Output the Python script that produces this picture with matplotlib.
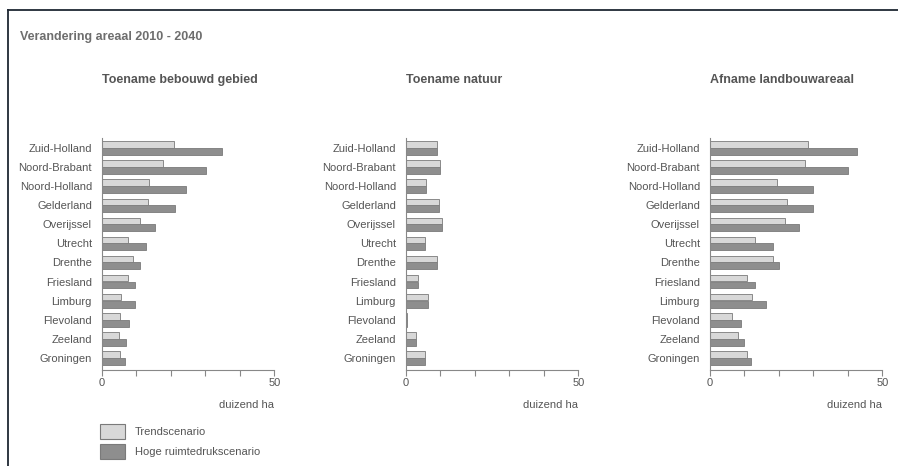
import numpy as np
import matplotlib
matplotlib.use('Agg')
import matplotlib.pyplot as plt
from matplotlib.patches import Patch
from matplotlib.lines import Line2D

plt.rcParams['font.family'] = ['Liberation Sans', 'DejaVu Sans']

# provinces, top to bottom as in the chart
provinces = ['Zuid-Holland', 'Noord-Brabant', 'Noord-Holland', 'Gelderland', 'Overijssel',
             'Utrecht', 'Drenthe', 'Friesland', 'Limburg', 'Flevoland', 'Zeeland', 'Groningen']

# duizend ha
bebouwd_trend = [20.8, 17.7, 13.7, 13.4, 11.1, 7.7, 9.2, 7.5, 5.6, 5.3, 5.1, 5.3]
bebouwd_hoog = [34.9, 30.3, 24.3, 21.1, 15.4, 12.9, 11.2, 9.7, 9.7, 8.0, 6.9, 6.8]

natuur_trend = [9.0, 9.8, 5.8, 9.7, 10.6, 5.5, 9.0, 3.7, 6.5, 0.5, 3.1, 5.5]
natuur_hoog = [9.0, 9.9, 5.8, 9.7, 10.6, 5.5, 9.0, 3.7, 6.5, 0.5, 3.1, 5.5]

landbouw_trend = [28.6, 27.5, 19.6, 22.4, 21.8, 13.1, 18.2, 10.7, 12.2, 6.5, 8.1, 10.7]
landbouw_hoog = [42.7, 40.1, 30.0, 30.0, 25.9, 18.3, 20.0, 13.1, 16.3, 9.0, 9.9, 12.1]

panel_titles = ['Toename bebouwd gebied', 'Toename natuur', 'Afname landbouwareaal']
series = [(bebouwd_trend, bebouwd_hoog), (natuur_trend, natuur_hoog), (landbouw_trend, landbouw_hoog)]

light = '#d8d8d8'
dark = '#8e8e8e'
edge = '#7a7a7a'
txt = '#555555'

W, H = 898, 466
fig = plt.figure(figsize=(W / 100, H / 100), dpi=100)

# frame lines (top and left only)
fig.add_artist(Line2D([8 / W, 1], [1 - 10 / H, 1 - 10 / H], color='#1f2733', lw=1.3))
fig.add_artist(Line2D([8 / W, 8 / W], [0, 1 - 10 / H], color='#1f2733', lw=1.3))

fig.text(20 / W, 1 - 37 / H, 'Verandering areaal 2010 - 2040', fontsize=9, fontweight='bold',
         color='#6e6e6e', va='center', ha='left')

lefts = [101.7, 405.7, 709.7]
y = np.arange(len(provinces))[::-1]

for left, title, (trend, hoog) in zip(lefts, panel_titles, series):
    ax = fig.add_axes([left / W, 1 - 370 / H, 172.6 / W, 232 / H])
    ax.barh(y - 0.18, hoog, height=0.36, color=dark, edgecolor=edge, linewidth=0.6)
    ax.barh(y + 0.18, trend, height=0.34, color=light, edgecolor=edge, linewidth=0.6)
    ax.set_xlim(0, 50)
    ax.set_ylim(-0.63, 11.52)
    ax.set_yticks(y)
    ax.set_yticklabels(provinces, fontsize=8, color=txt)
    ax.tick_params(axis='y', length=0, pad=7)
    ax.set_xticks([0, 10, 20, 30, 40, 50])
    ax.set_xticklabels(['0', '', '', '', '', '50'], fontsize=8, color=txt)
    ax.tick_params(axis='x', length=4, color='#888888', pad=2)
    for s in ['top', 'right']:
        ax.spines[s].set_visible(False)
    for s in ['left', 'bottom']:
        ax.spines[s].set_color('#888888')
        ax.spines[s].set_linewidth(0.8)
    ax.text(1.0, -0.15, 'duizend ha', transform=ax.transAxes, ha='right', va='center',
            fontsize=8, color=txt)
    fig.text(left / W, 1 - 80 / H, title, fontsize=9, fontweight='bold', color='#555555',
             ha='left', va='center')

handles = [Patch(facecolor=light, edgecolor=edge, linewidth=0.8),
           Patch(facecolor=dark, edgecolor=edge, linewidth=0.8)]
fig.legend(handles, ['Trendscenario', 'Hoge ruimtedrukscenario'], loc='upper left',
           bbox_to_anchor=(100 / W, 1 - 424 / H), frameon=False, fontsize=8,
           handlelength=2.25, handleheight=1.75, labelspacing=0.42, handletextpad=0.9,
           borderpad=0, borderaxespad=0, labelcolor=txt)

fig.savefig('out.png', dpi=100)
